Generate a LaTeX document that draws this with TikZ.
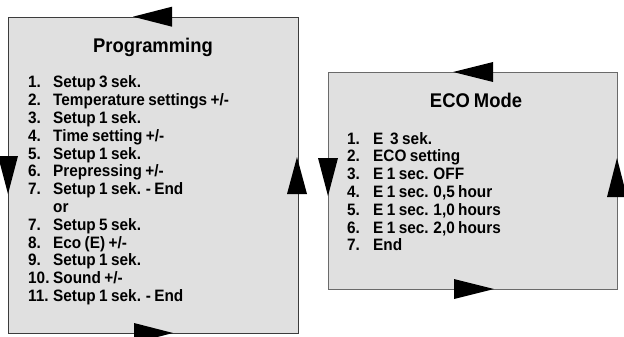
\documentclass[tikz,border=0pt]{standalone}
\usepackage{fontspec}
\setmainfont{Liberation Sans}[WordSpace=0.8, FakeStretch=0.93]
\definecolor{panelfill}{HTML}{E0E0E0}
\definecolor{leftedge}{HTML}{3C3C3C}
\definecolor{rightedge}{HTML}{6A6A6A}
\begin{document}
\begin{tikzpicture}[x=1pt,y=-1pt,
  panel/.style={draw=#1, line width=1pt, fill=panelfill, inner sep=0pt, anchor=north west},
  heading/.style={anchor=base, inner sep=0pt, font=\fontsize{19.8}{23}\selectfont\bfseries},
  steps/.style={anchor=base west, inner sep=0pt, font=\fontsize{16.5}{17.8}\selectfont\bfseries},
  flow/.style={fill=black, draw=none}]
  % canvas
  \fill[white] (0,0) rectangle (624,337);
  \useasboundingbox (0,0) rectangle (624,337);

  % Programming panel
  \node[panel=leftedge, minimum width=290pt, minimum height=316.5pt] (prog) at (8,16.7) {};
  \node[heading] (progtitle) at (153,53) {Programming};
  \node[steps] (progsteps) at (28,88) {%
    \begin{tabular}[t]{@{}p{25pt}@{}l@{}}
      1. & Setup 3 sek.\\
      2. & Temperature settings +/-\\
      3. & Setup 1 sek.\\
      4. & Time setting +/-\\
      5. & Setup 1 sek.\\
      6. & Prepressing +/-\\
      7. & Setup 1 sek. - End\\
         & or\\
      7. & Setup 5 sek.\\
      8. & Eco (E) +/-\\
      9. & Setup 1 sek.\\
      10. & Sound +/-\\
      11. & Setup 1 sek. - End
    \end{tabular}};

  % cycle arrows on the Programming panel
  \fill[flow] (133,16.7) -- (172,6.7) -- (172,26.7) -- cycle;
  \fill[flow] (8,194) -- (-2,156) -- (18,156) -- cycle;
  \fill[flow] (297,157) -- (287,194) -- (307,194) -- cycle;
  \fill[flow] (173,333) -- (134,323) -- (134,343) -- cycle;

  % ECO Mode panel
  \node[panel=rightedge, minimum width=289pt, minimum height=217pt] (eco) at (328,72) {};
  \node[heading] (ecotitle) at (476,107) {ECO Mode};
  \node[steps] (ecosteps) at (347,144) {%
    \begin{tabular}[t]{@{}p{26pt}@{}l@{}}
      1. & E\ \ 3 sek.\\
      2. & ECO setting\\
      3. & E 1 sec. OFF\\
      4. & E 1 sec. 0,5 hour\\
      5. & E 1 sec. 1,0 hours\\
      6. & E 1 sec. 2,0 hours\\
      7. & End
    \end{tabular}};

  % cycle arrows on the ECO Mode panel
  \fill[flow] (453,72) -- (493,62) -- (493,82) -- cycle;
  \fill[flow] (328,196) -- (318,158) -- (338,158) -- cycle;
  \fill[flow] (617,158) -- (607,197) -- (627,197) -- cycle;
  \fill[flow] (494,289) -- (454,279) -- (454,299) -- cycle;
\end{tikzpicture}
\end{document}
